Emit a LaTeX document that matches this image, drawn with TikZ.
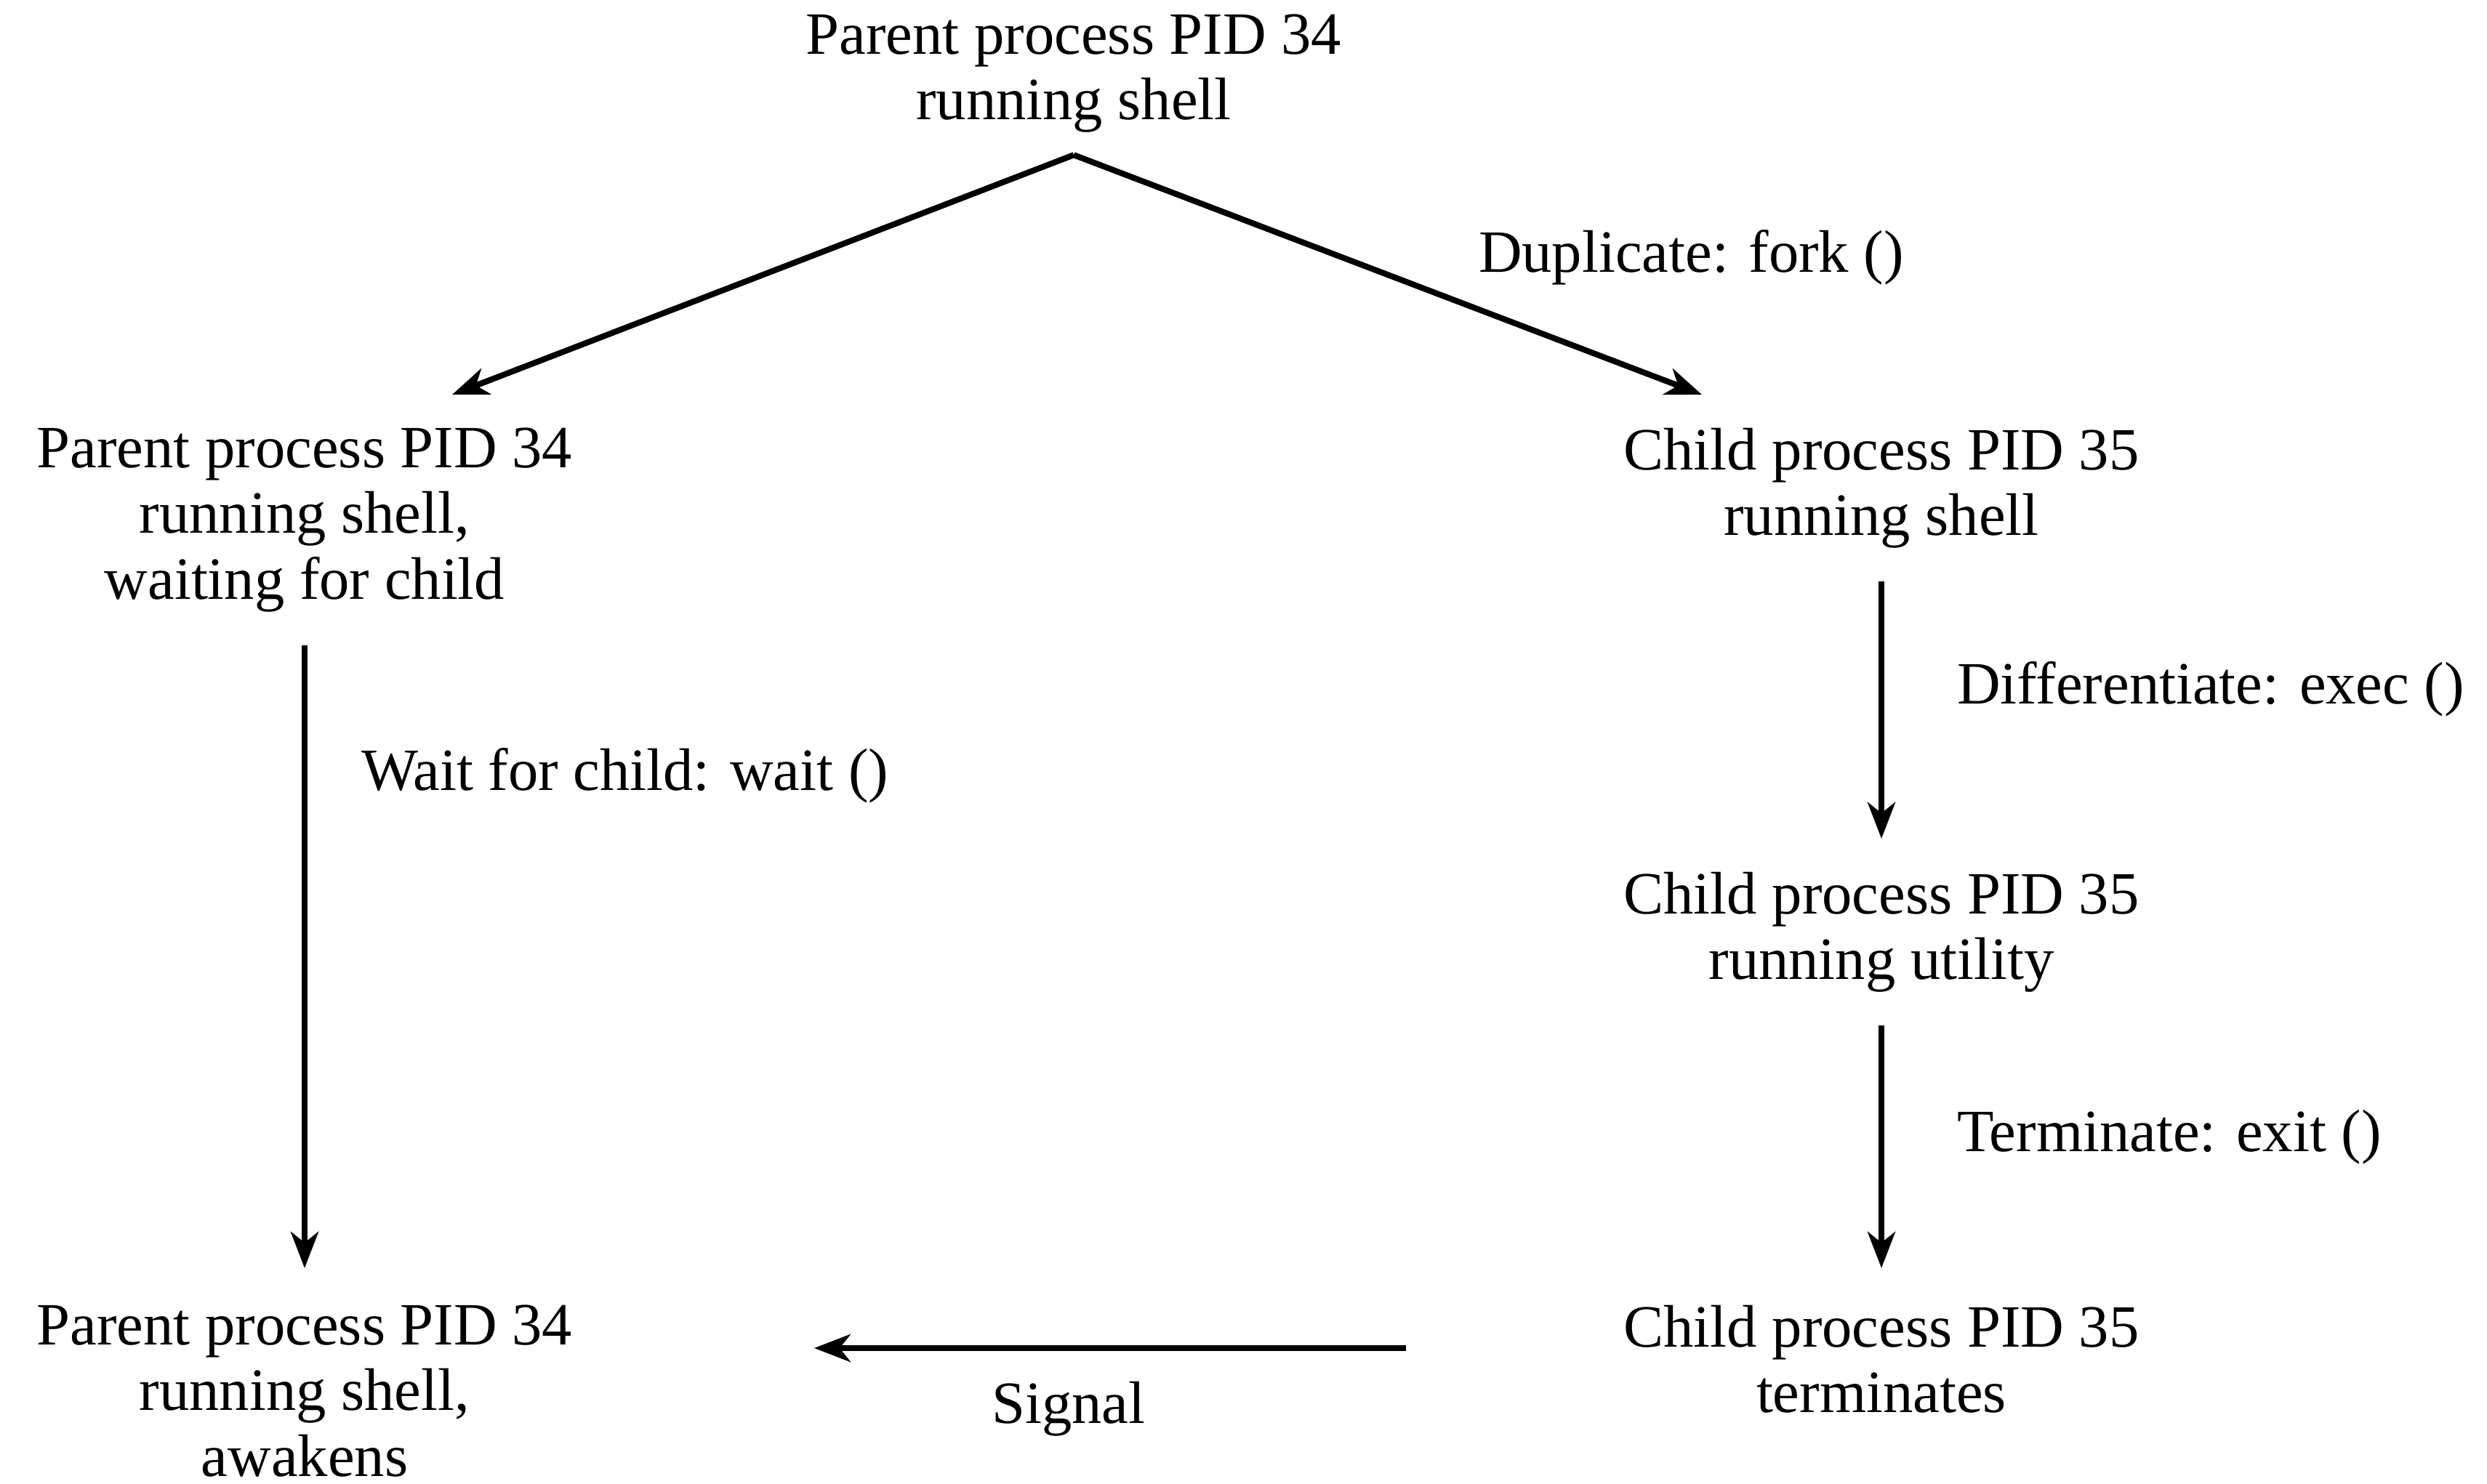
\documentclass[tikz,border=0pt]{standalone}
\usepackage{fontspec}
\setmainfont{Liberation Serif}
\usetikzlibrary{arrows.meta}

\tikzset{
  proc/.style={align=center, inner sep=0.45cm, anchor=north,
    font=\fontsize{23.5}{25.7}\selectfont},
  lbl/.style={inner sep=0pt, font=\fontsize{23.5}{25.7}\selectfont},
  flow/.style={line width=2.3pt, -{Stealth[length=5mm,width=3.8mm,inset=1.5mm]}},
}

\begin{document}
\begin{tikzpicture}
  \useasboundingbox (0,0) rectangle (34.21,-20.42);

  % processes
  \node[proc] (tp) at (14.77,0.26) {Parent process PID 34\\running shell};
  \node[proc] (pw) at (4.19,-5.43) {Parent process PID 34\\running shell,\\waiting for child};
  \node[proc] (cs) at (25.88,-5.43) {Child process PID 35\\running shell};
  \node[proc] (cu) at (25.88,-11.54) {Child process PID 35\\running utility};
  \node[proc] (pa) at (4.19,-17.50) {Parent process PID 34\\running shell,\\awakens};
  \node[proc] (ct) at (25.88,-17.50) {Child process PID 35\\terminates};

  % fork
  \draw[flow] ([yshift=0.15cm]tp.south) -- ([xshift=2.03cm]pw.north);
  \draw[flow] ([yshift=0.15cm]tp.south) -- ([xshift=-2.47cm]cs.north)
    node[lbl, pos=0.64, anchor=west, yshift=0.7cm] (fork) {Duplicate: fork ()};

  % parent waits
  \draw[flow] (pw.south) -- ([yshift=0.05cm]pa.north)
    node[lbl, pos=0.21, anchor=west, xshift=0.74cm] (wt) {Wait for child: wait ()};

  % child
  \draw[flow] (cs.south) -- (cu.north)
    node[lbl, pos=0.42, anchor=west, xshift=1cm] (ex) {Differentiate: exec ()};
  \draw[flow] (cu.south) -- ([yshift=0.05cm]ct.north)
    node[lbl, pos=0.46, anchor=west, xshift=1cm] (ext) {Terminate: exit ()};

  % signal back
  \draw[flow, shorten <=2.54cm, shorten >=2.87cm] ([yshift=-1.05cm]ct.north west) -- ([yshift=-1.05cm]pa.north east)
    node[lbl, pos=0.53, anchor=north, yshift=-0.42cm] (sig) {Signal};
\end{tikzpicture}
\end{document}
